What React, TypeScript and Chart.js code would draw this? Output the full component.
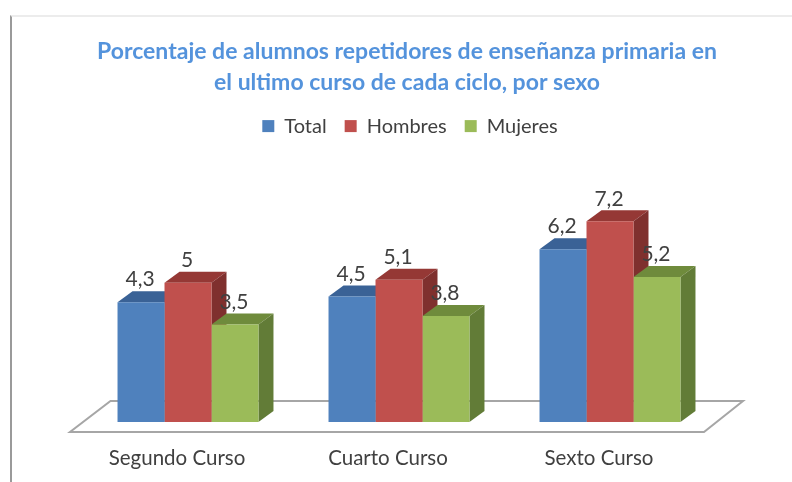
import React, { useEffect, useRef } from "react";
import { Chart, registerables } from "chart.js";

Chart.register(...registerables);

const categories = ["Segundo Curso", "Cuarto Curso", "Sexto Curso"];
const seriesNames = ["Total", "Hombres", "Mujeres"];
const totalValues = [4.3, 4.5, 6.2];
const hombresValues = [5, 5.1, 7.2];
const mujeresValues = [3.5, 3.8, 5.2];
const titleLines = [
  "Porcentaje de alumnos repetidores de enseñanza primaria en",
  "el ultimo curso de cada ciclo, por sexo",
];

const frontColors = ["#4f81bd", "#c0504d", "#9bbb59"];
const topColors = ["#3a6296", "#953835", "#6f8b3c"];
const sideColors = ["#34567f", "#7f302e", "#627c37"];
const FONT = "Lato, Carlito, sans-serif";
const DX = 15;
const DY = 11;

const poly = (ctx: CanvasRenderingContext2D, pts: number[][], fill: string) => {
  ctx.beginPath();
  pts.forEach(([x, y], i) => (i ? ctx.lineTo(x, y) : ctx.moveTo(x, y)));
  ctx.closePath();
  ctx.fillStyle = fill;
  ctx.fill();
};

const depthPlugin = {
  id: "depth",
  afterLayout(chart: any) {
    // nudge the centred legend to the right, as in the reference
    chart.legend.left += 3;
    chart.legend.right += 3;
  },
  beforeDatasetsDraw(chart: any) {
    const { ctx, chartArea, scales } = chart;
    const base = scales.y.getPixelForValue(0);
    ctx.save();
    ctx.beginPath();
    const l = chartArea.left;
    const r = chartArea.right;
    ctx.moveTo(l - 12.5, base + 10);
    ctx.lineTo(r - 11.5, base + 10);
    ctx.lineTo(r + 27.5, base - 21);
    ctx.lineTo(l + 28, base - 21);
    ctx.closePath();
    ctx.fillStyle = "#ffffff";
    ctx.fill();
    ctx.strokeStyle = "#a6a6a6";
    ctx.lineWidth = 2;
    ctx.stroke();
    chart.data.datasets.forEach((_: any, di: number) => {
      chart.getDatasetMeta(di).data.forEach((bar: any) => {
        const { x, y, width } = bar.getProps(["x", "y", "width"], true);
        const x0 = x - width / 2;
        const x1 = x + width / 2;
        poly(ctx, [[x0, y], [x1, y], [x1 + DX, y - DY], [x0 + DX, y - DY]], topColors[di]);
        poly(ctx, [[x1, y], [x1 + DX, y - DY], [x1 + DX, base - DY], [x1, base]], sideColors[di]);
      });
    });
    ctx.restore();
  },
  afterDatasetsDraw(chart: any) {
    const { ctx } = chart;
    ctx.save();
    ctx.font = `21px ${FONT}`;
    ctx.fillStyle = "#404040";
    ctx.textAlign = "center";
    ctx.textBaseline = "middle";
    chart.data.datasets.forEach((ds: any, di: number) => {
      chart.getDatasetMeta(di).data.forEach((bar: any, i: number) => {
        const { x, y } = bar.getProps(["x", "y"], true);
        ctx.fillText(String(ds.data[i]).replace(".", ","), x - 1, y - 22.5);
      });
    });
    ctx.restore();
  },
};

export default function App() {
  const ref = useRef<HTMLCanvasElement>(null);
  useEffect(() => {
    const chart = new Chart(ref.current!, {
      type: "bar",
      plugins: [depthPlugin],
      data: {
        labels: categories,
        datasets: [totalValues, hombresValues, mujeresValues].map((data, i) => ({
          label: seriesNames[i],
          data,
          backgroundColor: frontColors[i],
          borderWidth: 0,
          categoryPercentage: 0.668,
          barPercentage: 1,
        })),
      },
      options: {
        responsive: false,
        animation: false,
        layout: { padding: { left: 22, right: 0, top: 0, bottom: 0 } },
        plugins: {
          tooltip: { enabled: false },
          title: {
            display: true,
            text: titleLines,
            color: "#5493dc",
            font: { family: FONT, size: 23, weight: "bold", lineHeight: 1.35 },
            padding: { top: 36, bottom: 0 },
          },
          legend: {
            position: "top",
            labels: {
              boxWidth: 12,
              boxHeight: 12,
              padding: 18,
              color: "#404040",
              font: { family: FONT, size: 20 },
            },
          },
        },
        scales: {
          x: {
            grid: { display: false },
            border: { display: false },
            ticks: {
              color: "#404040",
              font: { family: FONT, size: 20.5 },
              padding: 16,
              labelOffset: -11,
              maxRotation: 0,
              autoSkip: false,
            },
            afterFit: (s: any) => { s.height = 60; },
          },
          y: {
            min: 0,
            max: 9.9,
            grid: { display: false },
            border: { display: false },
            ticks: { display: false },
            afterFit: (s: any) => { s.width = 60.5; },
          },
          yRight: {
            position: "right",
            min: 0,
            max: 9.9,
            grid: { display: false },
            border: { display: false },
            ticks: { display: false },
            afterFit: (s: any) => { s.width = 76.5; },
          },
        },
      } as any,
    });
    return () => chart.destroy();
  }, []);
  return (
    <div style={{ position: "fixed", inset: 0, background: "#fff" }}>
      <div
        style={{
          position: "absolute",
          left: 10,
          top: 15,
          right: 0,
          bottom: 0,
          borderLeft: "2px solid #9a9a9a",
          borderTop: "2px solid #ececec",
        }}
      />
      <canvas ref={ref} width={792} height={482} style={{ position: "absolute", left: 0, top: 0, display: "block" }} />
    </div>
  );
}
